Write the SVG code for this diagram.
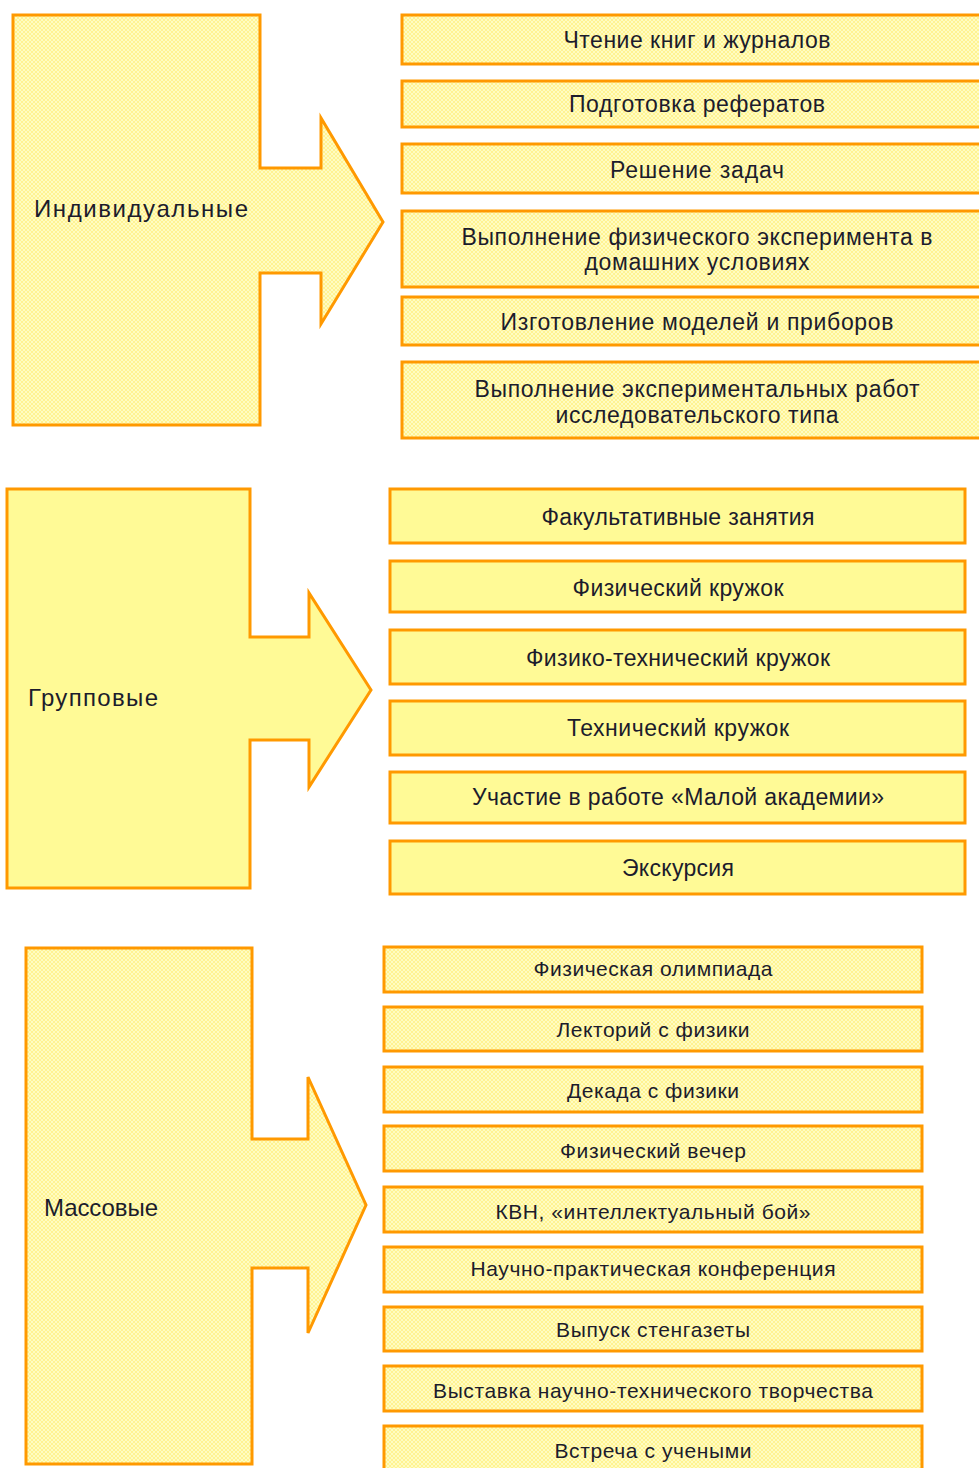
<svg xmlns="http://www.w3.org/2000/svg" width="979" height="1468" viewBox="0 0 979 1468">
<style>
.sh{stroke:#FF9900;stroke-width:3;stroke-linejoin:miter}
.pat{fill:url(#hatch)}
.sol{fill:#FFFA96}
text{font-family:"Liberation Sans",Arial,sans-serif;fill:#1c1c2c;text-anchor:middle}
.t1{font-size:23px}
.t3{font-size:21px}
.lab{font-size:24px;text-anchor:start}
</style>
<defs>
<pattern id="hatch" width="4" height="4" patternUnits="userSpaceOnUse">
<rect width="4" height="4" fill="#FFFCC2"/>
<path d="M0,0 L4,4 M4,0 L0,4" stroke="#FFF28C" stroke-width="0.9"/>
</pattern>
</defs>
<rect width="979" height="1468" fill="#FFFFFF"/>

<g id="individual">
<path class="sh pat" d="M13,15 H260 V168 H321 V118 L383,222 L321,324 V273 H260 V425 H13 Z"/>
<text class="lab" x="34" y="217" textLength="214" lengthAdjust="spacing">Индивидуальные</text>
</g>
<g id="i1"><rect class="sh pat" x="402" y="15" width="590" height="49"/><text class="t1" x="697" y="48" textLength="267" lengthAdjust="spacing">Чтение книг и журналов</text></g>
<g id="i2"><rect class="sh pat" x="402" y="81" width="590" height="46"/><text class="t1" x="697" y="112" textLength="256" lengthAdjust="spacing">Подготовка рефератов</text></g>
<g id="i3"><rect class="sh pat" x="402" y="144" width="590" height="49"/><text class="t1" x="697" y="178" textLength="174" lengthAdjust="spacing">Решение задач</text></g>
<g id="i4"><rect class="sh pat" x="402" y="211" width="590" height="76"/><text class="t1" x="697" y="245" textLength="471" lengthAdjust="spacing">Выполнение физического эксперимента в</text><text class="t1" x="697" y="270" textLength="225" lengthAdjust="spacing">домашних условиях</text></g>
<g id="i5"><rect class="sh pat" x="402" y="297" width="590" height="48"/><text class="t1" x="697" y="330" textLength="393" lengthAdjust="spacing">Изготовление моделей и приборов</text></g>
<g id="i6"><rect class="sh pat" x="402" y="362" width="590" height="76"/><text class="t1" x="697" y="397" textLength="445" lengthAdjust="spacing">Выполнение экспериментальных работ</text><text class="t1" x="697" y="423" textLength="283" lengthAdjust="spacing">исследовательского типа</text></g>

<g id="group">
<path class="sh sol" d="M7,489 H250 V637 H309 V593 L371,690 L309,787 V740 H250 V888 H7 Z"/>
<text class="lab" x="28" y="706" textLength="130" lengthAdjust="spacing">Групповые</text>
</g>
<g id="g1"><rect class="sh sol" x="390" y="489" width="575" height="54"/><text class="t1" x="678" y="525" textLength="273" lengthAdjust="spacing">Факультативные занятия</text></g>
<g id="g2"><rect class="sh sol" x="390" y="561" width="575" height="51"/><text class="t1" x="678" y="596" textLength="211" lengthAdjust="spacing">Физический кружок</text></g>
<g id="g3"><rect class="sh sol" x="390" y="630" width="575" height="54"/><text class="t1" x="678" y="666" textLength="304" lengthAdjust="spacing">Физико-технический кружок</text></g>
<g id="g4"><rect class="sh sol" x="390" y="701" width="575" height="54"/><text class="t1" x="678" y="736" textLength="222" lengthAdjust="spacing">Технический кружок</text></g>
<g id="g5"><rect class="sh sol" x="390" y="772" width="575" height="51"/><text class="t1" x="678" y="805" textLength="412" lengthAdjust="spacing">Участие в работе «Малой академии»</text></g>
<g id="g6"><rect class="sh sol" x="390" y="841" width="575" height="53"/><text class="t1" x="678" y="876" textLength="112" lengthAdjust="spacing">Экскурсия</text></g>

<g id="mass">
<path class="sh pat" d="M26,948 H252 V1139 H308 V1077 L366,1205 L308,1333 V1268 H252 V1464 H26 Z"/>
<text class="lab" x="44" y="1216" textLength="114" lengthAdjust="spacing">Массовые</text>
</g>
<g id="m1"><rect class="sh pat" x="384" y="947" width="538" height="45"/><text class="t3" x="653" y="976" textLength="239" lengthAdjust="spacing">Физическая олимпиада</text></g>
<g id="m2"><rect class="sh pat" x="384" y="1007" width="538" height="44"/><text class="t3" x="653" y="1037" textLength="193" lengthAdjust="spacing">Лекторий с физики</text></g>
<g id="m3"><rect class="sh pat" x="384" y="1067" width="538" height="45"/><text class="t3" x="653" y="1098" textLength="172" lengthAdjust="spacing">Декада с физики</text></g>
<g id="m4"><rect class="sh pat" x="384" y="1126" width="538" height="45"/><text class="t3" x="653" y="1158" textLength="186" lengthAdjust="spacing">Физический вечер</text></g>
<g id="m5"><rect class="sh pat" x="384" y="1187" width="538" height="45"/><text class="t3" x="653" y="1219" textLength="315" lengthAdjust="spacing">КВН, «интеллектуальный бой»</text></g>
<g id="m6"><rect class="sh pat" x="384" y="1247" width="538" height="45"/><text class="t3" x="653" y="1276" textLength="365" lengthAdjust="spacing">Научно-практическая конференция</text></g>
<g id="m7"><rect class="sh pat" x="384" y="1307" width="538" height="44"/><text class="t3" x="653" y="1337" textLength="194" lengthAdjust="spacing">Выпуск стенгазеты</text></g>
<g id="m8"><rect class="sh pat" x="384" y="1366" width="538" height="45"/><text class="t3" x="653" y="1398" textLength="440" lengthAdjust="spacing">Выставка научно-технического творчества</text></g>
<g id="m9"><rect class="sh pat" x="384" y="1426" width="538" height="52"/><text class="t3" x="653" y="1458" textLength="197" lengthAdjust="spacing">Встреча с учеными</text></g>
</svg>
